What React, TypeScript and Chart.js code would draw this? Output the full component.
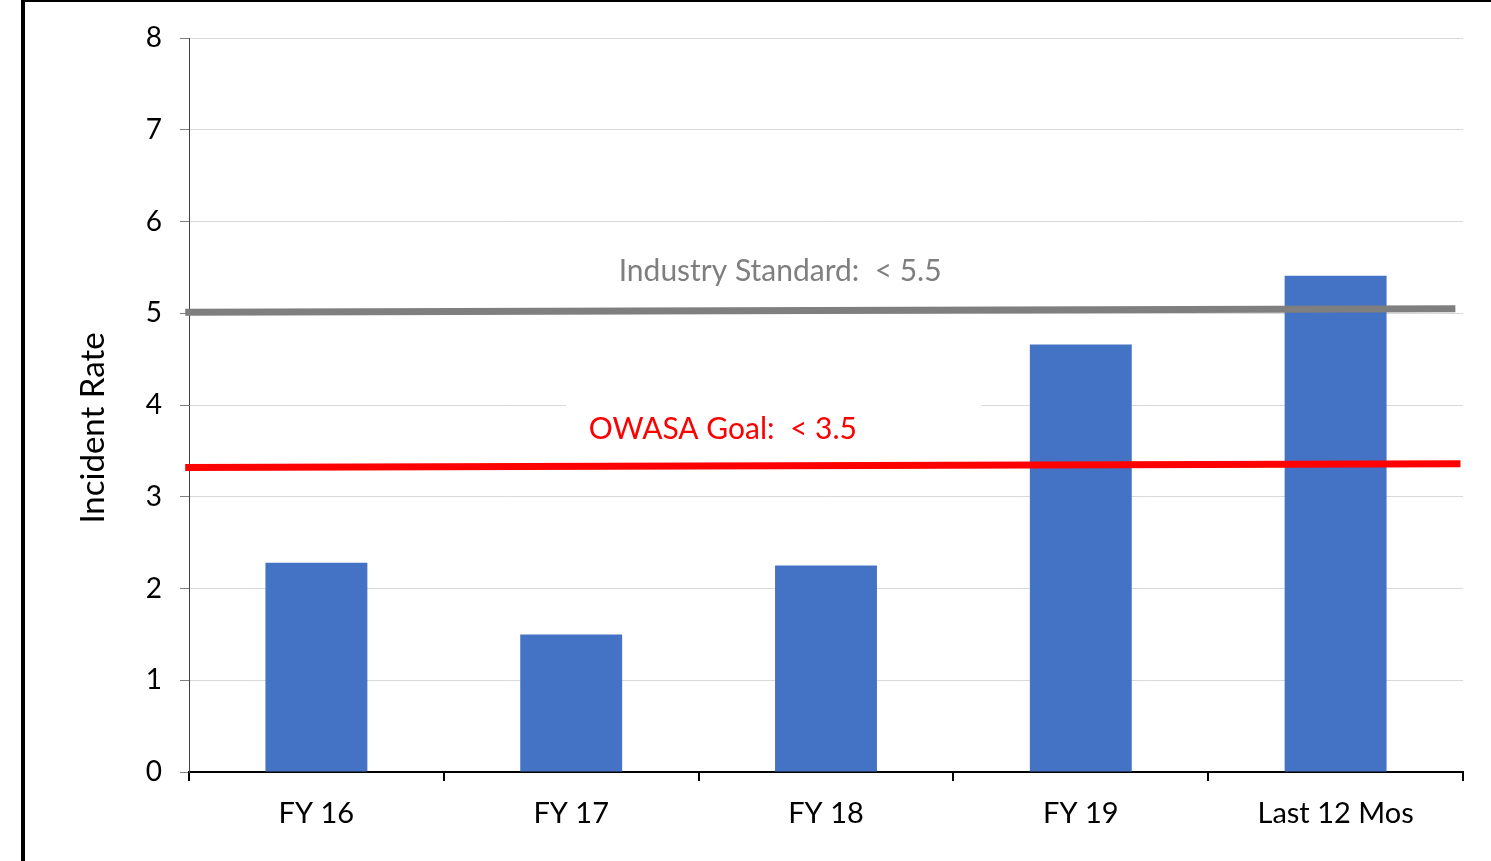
import React, { useEffect, useRef } from "react";
import { Chart, registerables } from "chart.js";

Chart.register(...registerables);

const categories = ["FY 16", "FY 17", "FY 18", "FY 19", "Last 12 Mos"];
const incidentRates = [2.28, 1.5, 2.25, 4.66, 5.41];
const yTicks = [0, 1, 2, 3, 4, 5, 6, 7, 8];

// reference lines (x in 0..100 across plot width, y in incident rate)
const industryLine = [
  { x: -0.3, y: 5.01 },
  { x: 99.4, y: 5.05 },
];
const owasaLine = [
  { x: -0.3, y: 3.32 },
  { x: 99.8, y: 3.36 },
];
const lineLabels = [
  { text: "Industry Standard:  < 5.5", x: 46.4, y: 5.46, color: "#7f7f7f", box: null },
  { text: "OWASA Goal:  < 3.5", x: 41.9, y: 3.74, color: "#ff0000", box: { x0: 29.6, x1: 62.2, y0: 4.08, y1: 3.45 } },
];
const yTitle = "Incident Rate";

const FONT = "Lato, 'Open Sans', sans-serif";

export default function App() {
  const ref = useRef<HTMLCanvasElement | null>(null);

  useEffect(() => {
    if (!ref.current) return;
    const labelsPlugin = {
      id: "lineLabels",
      beforeDatasetsDraw(chart: any) {
        const ctx = chart.ctx;
        const xs = chart.scales.x2;
        const ys = chart.scales.y;
        ctx.save();
        ctx.fillStyle = "#ffffff";
        for (const l of lineLabels) {
          if (!l.box) continue;
          const x0 = xs.getPixelForValue(l.box.x0);
          const x1 = xs.getPixelForValue(l.box.x1);
          const y0 = ys.getPixelForValue(l.box.y0);
          const y1 = ys.getPixelForValue(l.box.y1);
          ctx.fillRect(x0, y0, x1 - x0, y1 - y0);
        }
        ctx.restore();
      },
      afterDatasetsDraw(chart: any) {
        const ctx = chart.ctx;
        const xs = chart.scales.x2;
        const ys = chart.scales.y;
        ctx.save();
        ctx.font = `30px ${FONT}`;
        ctx.textAlign = "center";
        ctx.textBaseline = "middle";
        for (const l of lineLabels) {
          ctx.fillStyle = l.color;
          ctx.fillText(l.text, xs.getPixelForValue(l.x), ys.getPixelForValue(l.y));
        }
        // y axis title
        const cy = (chart.chartArea.top + chart.chartArea.bottom) / 2 + 23;
        ctx.translate(93, cy);
        ctx.rotate(-Math.PI / 2);
        ctx.fillStyle = "#000000";
        ctx.font = `33px ${FONT}`;
        ctx.fillText(yTitle, 0, 0);
        ctx.restore();
      },
    };

    const chart = new Chart(ref.current, {
      type: "bar",
      data: {
        labels: categories,
        datasets: [
          {
            type: "line",
            data: industryLine,
            xAxisID: "x2",
            borderColor: "#7f7f7f",
            borderWidth: 7,
            pointRadius: 0,
            fill: false,
            clip: false,
            order: 1,
          } as any,
          {
            type: "line",
            data: owasaLine,
            xAxisID: "x2",
            borderColor: "#ff0000",
            borderWidth: 7,
            pointRadius: 0,
            fill: false,
            clip: false,
            order: 1,
          } as any,
          {
            type: "bar",
            data: incidentRates,
            xAxisID: "x",
            backgroundColor: "#4472c4",
            barPercentage: 0.4,
            categoryPercentage: 1,
            grouped: false,
            order: 2,
          } as any,
        ],
      },
      options: {
        animation: false,
        responsive: false,
        devicePixelRatio: 1,
        layout: { padding: { left: 0, right: 28, top: 38, bottom: 0 } },
        plugins: {
          legend: { display: false },
          tooltip: { enabled: false },
        },
        scales: {
          x: {
            type: "category",
            offset: true,
            grid: {
              display: true,
              offset: true,
              drawOnChartArea: false,
              drawTicks: true,
              tickLength: 9,
              color: "#000000",
              lineWidth: 2,
            },
            border: { display: true, color: "#000000", width: 2 },
            ticks: { color: "#000000", font: { size: 29, family: FONT }, padding: 15 },
            afterFit(scale: any) {
              scale.height = 89;
            },
          },
          x2: {
            type: "linear",
            display: false,
            offset: false,
            grid: { offset: false },
            min: 0,
            max: 100,
          },
          y: {
            min: 0,
            max: 8,
            afterBuildTicks(scale: any) {
              scale.ticks = yTicks.map((v) => ({ value: v }));
            },
            grid: {
              color: "#d9d9d9",
              lineWidth: 1,
              tickColor: "#7f7f7f",
              tickLength: 9,
            },
            border: { display: true, color: "#404040", width: 1 },
            ticks: { color: "#000000", font: { size: 28, family: FONT }, padding: 18 },
            afterFit(scale: any) {
              scale.width = 189;
            },
          },
        },
      },
      plugins: [labelsPlugin],
    } as any);
    return () => chart.destroy();
  }, []);

  return (
    <div style={{ position: "fixed", left: 0, top: 0, width: 1491, height: 861, background: "#fff", overflow: "hidden" }}>
      <div
        style={{
          position: "absolute",
          left: 21,
          top: 0,
          width: 1491,
          height: 900,
          borderLeft: "4px solid #000",
          borderTop: "2px solid #000",
          boxSizing: "border-box",
        }}
      />
      <canvas ref={ref} width={1491} height={861} style={{ position: "absolute", left: 0, top: 0 }} />
    </div>
  );
}
